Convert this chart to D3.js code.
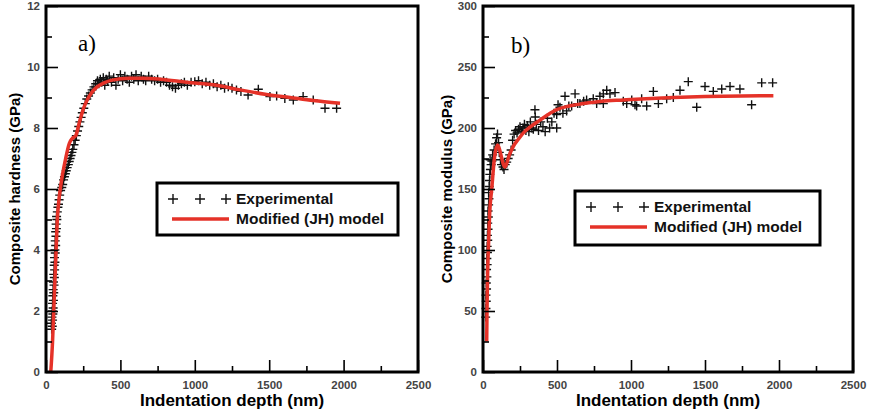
<!DOCTYPE html>
<html>
<head>
<meta charset="utf-8">
<script src="https://cdn.jsdelivr.net/npm/d3@7/dist/d3.min.js"></script>
<style>
  body { margin: 0; background: #fff; }
  svg { display: block; }
  .tick text { font-family: "Liberation Sans", Arial, sans-serif; font-weight: bold; font-size: 11.5px; fill: #444; }
</style>
</head>
<body>
<script>
// tick values
var depthTicks = [0, 500, 1000, 1500, 2000, 2500];
var depthMinor = [250, 750, 1250, 1750, 2250];
var hardnessTicks = [0, 2, 4, 6, 8, 10, 12];
var hardnessMinor = [1, 3, 5, 7, 9, 11];
var modulusTicks = [0, 50, 100, 150, 200, 250, 300];
var modulusMinor = [25, 75, 125, 175, 225, 275];

// a) composite hardness, [depth nm, GPa]
var hardnessExp = [
  [38,1.4],[42,1.5],[36,1.6],[44,1.7],[40,1.8],[46,1.9],[42,2.0],[48,2.1],[44,2.25],[50,2.35],
  [46,2.5],[52,2.6],[48,2.7],[54,2.85],[50,2.95],[56,3.1],[52,3.2],[58,3.35],[55,3.5],[60,3.6],
  [57,3.75],[62,3.9],[60,4.0],[65,4.15],[62,4.3],[67,4.45],[65,4.6],[70,4.7],[68,4.85],[73,5.0],
  [71,5.1],[76,5.25],[80,5.4],[84,5.5],[88,5.65],[92,5.8],[98,5.95],
  [106,6.05],[112,6.15],[118,6.3],[124,6.4],[130,6.5],[136,6.6],[142,6.7],[150,6.8],[156,6.9],
  [162,7.0],[168,7.1],[174,7.2],[180,7.3],[188,7.45],[196,7.6],[204,7.75],[212,7.9],[220,8.05],
  [228,8.2],[236,8.35],[244,8.5],[254,8.65],[264,8.8],[274,8.95],[286,9.05],[298,9.15],[310,9.25],
  [322,9.35],[334,9.45],[346,9.55],
  [355,9.45],[365,9.6],[375,9.5],[385,9.65],[395,9.4],[405,9.6],[415,9.55],[425,9.7],[440,9.5],
  [455,9.65],[470,9.4],[485,9.6],[500,9.75],[515,9.55],[530,9.7],[545,9.6],[560,9.5],[575,9.7],
  [590,9.6],[605,9.75],[620,9.55],[640,9.7],[655,9.6],[670,9.55],[690,9.7],[710,9.6],[730,9.55],
  [750,9.6],[770,9.5],[790,9.55],[810,9.5],[830,9.4],[850,9.35],[870,9.3],[890,9.4],[910,9.45],
  [930,9.5],[950,9.4],[975,9.5],[1000,9.52],[1025,9.55],[1050,9.45],[1075,9.5],[1100,9.4],
  [1125,9.45],[1150,9.35],[1175,9.4],[1200,9.3],[1225,9.35],[1250,9.3],[1280,9.25],[1310,9.2],
  [1358,9.08],[1427,9.27],[1505,9.03],[1550,9.05],[1605,8.97],[1662,8.92],[1728,9.03],
  [1796,8.92],[1875,8.65],[1953,8.65]
];
var hardnessModel = [
  [32,0],[44,1],[52,2],[60,3],[68,4],[76,5],[86,5.6],[96,6],[112,6.5],[130,6.95],[157,7.5],
  [175,7.65],[200,7.75],[225,8.2],[253,8.65],[280,8.95],[305,9.15],[343,9.35],[390,9.48],
  [444,9.57],[556,9.63],[650,9.63],[766,9.6],[946,9.5],[1147,9.4],[1304,9.25],[1483,9.1],
  [1640,9.0],[1796,8.9],[1976,8.81]
];

// b) composite modulus, [depth nm, GPa]
var modulusExp = [
  [18,45],[20,52],[22,58],[20,63],[24,68],[22,73],[26,78],[24,84],[28,88],[26,93],[30,98],[28,103],
  [32,108],[30,112],[34,117],[32,122],[36,127],[34,132],[38,137],[40,142],[38,147],[42,152],
  [44,157],[46,162],[50,166],[55,170],[48,174],[60,173],[65,178],[75,182],[85,187],[92,192],
  [98,195],[105,188],[110,180],[118,174],[125,170],[135,168],[142,166],[150,170],[160,172],
  [170,175],[180,178],[190,182],[200,190],[210,195],[220,198],[230,196],[240,199],[250,201],
  [260,197],[270,200],[280,203],[290,198],[300,202],[310,197],[320,205],[330,200],[340,199],
  [351,215],[353,209],[360,203],[375,198],[390,205],[405,201],[420,197],[435,208],[450,200],
  [465,205],[480,212],[498,200],[498,211],[507,219],[520,217],[540,212],[554,226],[565,214],
  [580,218],[599,218],[622,228],[640,220],[655,220],[680,222],[700,223],[745,224],[768,220],
  [790,226],[813,228],[813,220],[836,231],[858,228],[892,229],[948,222],[971,220],[1005,223],
  [1027,219],[1038,218],[1072,224],[1106,218],[1151,230],[1185,220],[1241,224],[1286,225],
  [1331,231],[1387,238],[1444,217],[1500,234],[1556,230],[1613,232],[1669,234],[1736,232],
  [1815,219],[1883,237],[1957,237]
];
var modulusModel = [
  [25,25],[27,50],[31,80],[36,100],[45,130],[59,150],[77,175],[97,186],[149,168],[175,177],
  [205,185],[240,191],[273,196],[320,201],[385,206.5],[440,211],[498,215],[580,218],[678,220],
  [800,222],[948,223],[1100,224],[1286,225],[1500,225.8],[1750,226.3],[1962,226.5]
];

var svg = d3.select("body").append("svg")
    .attr("width", 870).attr("height", 415);

var red = "#e53228";

function cross(g, x, y, h) {
  g.append("path")
    .attr("d", "M" + (x - h) + "," + y + "H" + (x + h) + "M" + x + "," + (y - h) + "V" + (y + h))
    .attr("stroke", "#111").attr("stroke-width", 1.4).attr("fill", "none");
}

function panel(p) {
  var x = d3.scaleLinear().domain([0, 2500]).range([p.left, p.right]);
  var y = d3.scaleLinear().domain(p.yDomain).range([p.bottom, p.top]);
  var g = svg.append("g");

  // data
  p.exp.forEach(function (d) { cross(g, x(d[0]), y(d[1]), 4.5); });

  var line = d3.line()
    .x(function (d) { return x(d[0]); })
    .y(function (d) { return y(d[1]); })
    .curve(d3.curveMonotoneX);
  g.append("path").datum(p.model)
    .attr("d", line)
    .attr("fill", "none").attr("stroke", red).attr("stroke-width", 3.5)
    .attr("stroke-linejoin", "round");

  // axes with inward ticks
  var xa = g.append("g").attr("transform", "translate(0," + p.bottom + ")")
    .call(d3.axisBottom(x).tickValues(depthTicks).tickSize(-12).tickPadding(16).tickFormat(d3.format("d")));
  var xm = g.append("g").attr("transform", "translate(0," + p.bottom + ")")
    .call(d3.axisBottom(x).tickValues(depthMinor).tickSize(-6).tickFormat(""));
  var ya = g.append("g").attr("transform", "translate(" + p.left + ",0)")
    .call(d3.axisLeft(y).tickValues(p.yTicks).tickSize(-12).tickPadding(6).tickFormat(d3.format("d")));
  var ym = g.append("g").attr("transform", "translate(" + p.left + ",0)")
    .call(d3.axisLeft(y).tickValues(p.yMinor).tickSize(-6).tickFormat(""));
  [xa, xm, ya, ym].forEach(function (a) {
    a.select(".domain").remove();
    a.selectAll(".tick line").attr("stroke", "#000").attr("stroke-width", 1.6);
  });
  xa.selectAll(".tick text").attr("dy", "0.1em");

  g.append("rect")
    .attr("x", p.left).attr("y", p.top)
    .attr("width", p.right - p.left).attr("height", p.bottom - p.top)
    .attr("fill", "none").attr("stroke", "#000").attr("stroke-width", 3);

  // titles
  g.append("text")
    .attr("x", (p.left + p.right) / 2 - 0).attr("y", 406)
    .attr("text-anchor", "middle")
    .attr("font-family", "Liberation Sans, Arial, sans-serif")
    .attr("font-weight", "bold").attr("font-size", 17)
    .text("Indentation depth (nm)");
  g.append("text")
    .attr("transform", "translate(" + p.yTitleX + ",189) rotate(-90)")
    .attr("text-anchor", "middle")
    .attr("font-family", "Liberation Sans, Arial, sans-serif")
    .attr("font-weight", "bold").attr("font-size", 15)
    .text(p.yTitle);
  g.append("text")
    .attr("x", p.tagX).attr("y", p.tagY)
    .attr("font-family", "Liberation Serif, Times New Roman, serif")
    .attr("font-size", 23)
    .text(p.tag);

  // legend
  var L = p.legend;
  g.append("rect")
    .attr("x", L.x).attr("y", L.y).attr("width", L.w).attr("height", L.h)
    .attr("fill", "#fff").attr("stroke", "#000").attr("stroke-width", 3);
  [0, 27, 53].forEach(function (dx) { cross(g, L.x + 16 + dx, L.y + 16, 5); });
  g.append("line")
    .attr("x1", L.x + 15).attr("x2", L.x + 72)
    .attr("y1", L.y + 36).attr("y2", L.y + 36)
    .attr("stroke", red).attr("stroke-width", 3.5);
  var lt = ["Experimental", "Modified (JH) model"];
  lt.forEach(function (t, i) {
    g.append("text")
      .attr("x", L.x + 79).attr("y", L.y + 21 + i * 20)
      .attr("font-family", "Liberation Sans, Arial, sans-serif")
      .attr("font-weight", "bold").attr("font-size", 15.5)
      .attr("fill", "#111")
      .text(t);
  });
}

panel({
  left: 46, right: 418, top: 6, bottom: 372,
  yDomain: [0, 12], yTicks: hardnessTicks, yMinor: hardnessMinor,
  exp: hardnessExp, model: hardnessModel,
  yTitle: "Composite hardness (GPa)", yTitleX: 20,
  tag: "a)", tagX: 78, tagY: 51,
  legend: { x: 157, y: 183, w: 241, h: 52 }
});

panel({
  left: 483, right: 853, top: 6, bottom: 372,
  yDomain: [0, 300], yTicks: modulusTicks, yMinor: modulusMinor,
  exp: modulusExp, model: modulusModel,
  yTitle: "Composite modulus (GPa)", yTitleX: 452,
  tag: "b)", tagX: 511, tagY: 53,
  legend: { x: 575, y: 191, w: 245, h: 54 }
});
</script>
</body>
</html>
